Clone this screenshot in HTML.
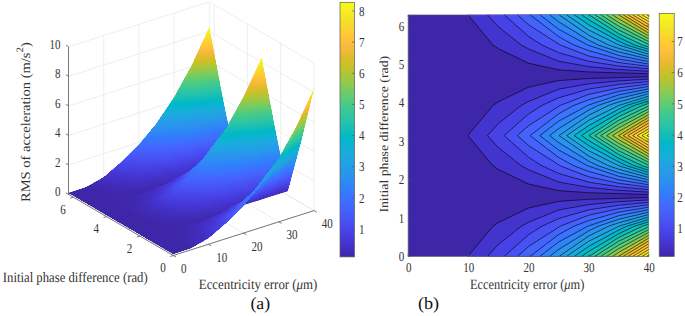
<!DOCTYPE html><html><head><meta charset="utf-8"><style>html,body{margin:0;padding:0;background:#fff;}body{width:685px;height:316px;overflow:hidden;font-family:"Liberation Serif",serif;}svg{display:block;}</style></head><body><svg width="685" height="316" viewBox="0 0 685 316" font-family="Liberation Serif, serif" text-rendering="geometricPrecision"><defs><linearGradient id="p" gradientUnits="userSpaceOnUse" x1="0" y1="0" x2="1" y2="0"><stop offset="0.000" stop-color="#3e26a8"/><stop offset="0.031" stop-color="#422ebf"/><stop offset="0.062" stop-color="#4536d5"/><stop offset="0.094" stop-color="#4741e5"/><stop offset="0.125" stop-color="#484cef"/><stop offset="0.156" stop-color="#4757f7"/><stop offset="0.188" stop-color="#4562fc"/><stop offset="0.219" stop-color="#3f6eff"/><stop offset="0.250" stop-color="#347afd"/><stop offset="0.281" stop-color="#2e85f8"/><stop offset="0.312" stop-color="#2c90f0"/><stop offset="0.344" stop-color="#269ae9"/><stop offset="0.375" stop-color="#21a3e3"/><stop offset="0.406" stop-color="#1aacdd"/><stop offset="0.438" stop-color="#0cb3d3"/><stop offset="0.469" stop-color="#00b9c6"/><stop offset="0.500" stop-color="#12beb9"/><stop offset="0.531" stop-color="#28c2ab"/><stop offset="0.562" stop-color="#34c79c"/><stop offset="0.594" stop-color="#43cb8a"/><stop offset="0.625" stop-color="#5ccc76"/><stop offset="0.656" stop-color="#77cc60"/><stop offset="0.688" stop-color="#94ca4a"/><stop offset="0.719" stop-color="#afc636"/><stop offset="0.750" stop-color="#c8c129"/><stop offset="0.781" stop-color="#debc29"/><stop offset="0.812" stop-color="#f1ba37"/><stop offset="0.844" stop-color="#febe3c"/><stop offset="0.875" stop-color="#feca33"/><stop offset="0.906" stop-color="#f9d62d"/><stop offset="0.938" stop-color="#f5e327"/><stop offset="0.969" stop-color="#f6ef20"/><stop offset="1.000" stop-color="#f9fb15"/></linearGradient><linearGradient id="cb" x1="0" y1="1" x2="0" y2="0"><stop offset="0.000" stop-color="#3e26a8"/><stop offset="0.031" stop-color="#422ebf"/><stop offset="0.062" stop-color="#4536d5"/><stop offset="0.094" stop-color="#4741e5"/><stop offset="0.125" stop-color="#484cef"/><stop offset="0.156" stop-color="#4757f7"/><stop offset="0.188" stop-color="#4562fc"/><stop offset="0.219" stop-color="#3f6eff"/><stop offset="0.250" stop-color="#347afd"/><stop offset="0.281" stop-color="#2e85f8"/><stop offset="0.312" stop-color="#2c90f0"/><stop offset="0.344" stop-color="#269ae9"/><stop offset="0.375" stop-color="#21a3e3"/><stop offset="0.406" stop-color="#1aacdd"/><stop offset="0.438" stop-color="#0cb3d3"/><stop offset="0.469" stop-color="#00b9c6"/><stop offset="0.500" stop-color="#12beb9"/><stop offset="0.531" stop-color="#28c2ab"/><stop offset="0.562" stop-color="#34c79c"/><stop offset="0.594" stop-color="#43cb8a"/><stop offset="0.625" stop-color="#5ccc76"/><stop offset="0.656" stop-color="#77cc60"/><stop offset="0.688" stop-color="#94ca4a"/><stop offset="0.719" stop-color="#afc636"/><stop offset="0.750" stop-color="#c8c129"/><stop offset="0.781" stop-color="#debc29"/><stop offset="0.812" stop-color="#f1ba37"/><stop offset="0.844" stop-color="#febe3c"/><stop offset="0.875" stop-color="#feca33"/><stop offset="0.906" stop-color="#f9d62d"/><stop offset="0.938" stop-color="#f5e327"/><stop offset="0.969" stop-color="#f6ef20"/><stop offset="1.000" stop-color="#f9fb15"/></linearGradient><linearGradient id="g1" href="#p" xlink:href="#p" x1="11.36" y1="177.35" x2="2.60" y2="40.56"/><linearGradient id="g2" href="#p" xlink:href="#p" x1="25.24" y1="193.68" x2="6.55" y2="50.29"/><linearGradient id="g3" href="#p" xlink:href="#p" x1="31.78" y1="196.74" x2="9.48" y2="58.66"/><linearGradient id="g4" href="#p" xlink:href="#p" x1="69.26" y1="217.20" x2="24.06" y2="75.45"/><linearGradient id="g5" href="#p" xlink:href="#p" x1="68.83" y1="215.85" x2="41.22" y2="129.27"/><linearGradient id="g6" href="#p" xlink:href="#p" x1="149.85" y1="215.10" x2="116.80" y2="167.65"/><linearGradient id="g7" href="#p" xlink:href="#p" x1="120.46" y1="225.38" x2="82.19" y2="153.77"/><linearGradient id="g8" href="#p" xlink:href="#p" x1="223.31" y1="162.49" x2="198.60" y2="144.51"/><linearGradient id="g9" href="#p" xlink:href="#p" x1="13.52" y1="211.10" x2="4.76" y2="74.31"/><linearGradient id="g10" href="#p" xlink:href="#p" x1="30.03" y1="230.41" x2="11.34" y2="87.02"/><linearGradient id="g11" href="#p" xlink:href="#p" x1="37.91" y1="234.73" x2="15.61" y2="96.66"/><linearGradient id="g12" href="#p" xlink:href="#p" x1="82.93" y1="260.06" x2="37.73" y2="118.31"/><linearGradient id="g13" href="#p" xlink:href="#p" x1="82.50" y1="258.71" x2="54.89" y2="172.14"/><linearGradient id="g14" href="#p" xlink:href="#p" x1="181.28" y1="260.21" x2="148.22" y2="212.76"/><linearGradient id="g15" href="#p" xlink:href="#p" x1="144.78" y1="270.89" x2="106.51" y2="199.28"/><linearGradient id="g16" href="#p" xlink:href="#p" x1="272.06" y1="197.96" x2="247.35" y2="179.98"/><linearGradient id="g17" href="#p" xlink:href="#p" x1="8.33" y1="178.39" x2="1.67" y2="35.82"/><linearGradient id="g18" href="#p" xlink:href="#p" x1="21.37" y1="193.91" x2="4.45" y2="40.39"/><linearGradient id="g19" href="#p" xlink:href="#p" x1="28.87" y1="197.29" x2="7.47" y2="51.03"/><linearGradient id="g20" href="#p" xlink:href="#p" x1="69.38" y1="217.56" x2="19.39" y2="60.81"/><linearGradient id="g21" href="#p" xlink:href="#p" x1="68.76" y1="215.62" x2="44.07" y2="138.19"/><linearGradient id="g22" href="#p" xlink:href="#p" x1="162.07" y1="203.10" x2="141.99" y2="177.93"/><linearGradient id="g23" href="#p" xlink:href="#p" x1="124.54" y1="221.91" x2="90.18" y2="160.68"/><linearGradient id="g24" href="#p" xlink:href="#p" x1="226.78" y1="129.29" x2="225.06" y2="128.31"/><linearGradient id="g25" href="#p" xlink:href="#p" x1="9.86" y1="211.30" x2="3.21" y2="68.73"/><linearGradient id="g26" href="#p" xlink:href="#p" x1="25.32" y1="229.78" x2="8.40" y2="76.26"/><linearGradient id="g27" href="#p" xlink:href="#p" x1="34.34" y1="234.68" x2="12.94" y2="88.43"/><linearGradient id="g28" href="#p" xlink:href="#p" x1="83.05" y1="260.43" x2="33.06" y2="103.68"/><linearGradient id="g29" href="#p" xlink:href="#p" x1="82.43" y1="258.49" x2="57.74" y2="181.06"/><linearGradient id="g30" href="#p" xlink:href="#p" x1="197.32" y1="247.27" x2="177.24" y2="222.10"/><linearGradient id="g31" href="#p" xlink:href="#p" x1="150.10" y1="267.47" x2="115.74" y2="206.24"/><linearGradient id="g32" href="#p" xlink:href="#p" x1="279.41" y1="159.30" x2="277.70" y2="158.32"/><linearGradient id="g33" href="#p" xlink:href="#p" x1="4.46" y1="179.11" x2="0.70" y2="28.08"/><linearGradient id="g34" href="#p" xlink:href="#p" x1="16.05" y1="193.63" x2="2.01" y2="24.27"/><linearGradient id="g35" href="#p" xlink:href="#p" x1="24.77" y1="197.55" x2="4.83" y2="38.50"/><linearGradient id="g36" href="#p" xlink:href="#p" x1="69.14" y1="218.11" x2="10.83" y2="34.17"/><linearGradient id="g37" href="#p" xlink:href="#p" x1="68.93" y1="215.32" x2="48.98" y2="153.00"/><linearGradient id="g38" href="#p" xlink:href="#p" x1="179.68" y1="179.71" x2="191.13" y2="191.17"/><linearGradient id="g39" href="#p" xlink:href="#p" x1="130.07" y1="217.20" x2="102.88" y2="171.80"/><linearGradient id="g40" href="#p" xlink:href="#p" x1="219.94" y1="82.31" x2="260.15" y2="97.36"/><linearGradient id="g41" href="#p" xlink:href="#p" x1="5.26" y1="210.93" x2="1.49" y2="59.91"/><linearGradient id="g42" href="#p" xlink:href="#p" x1="18.92" y1="228.26" x2="4.88" y2="58.91"/><linearGradient id="g43" href="#p" xlink:href="#p" x1="29.36" y1="234.08" x2="9.41" y2="75.03"/><linearGradient id="g44" href="#p" xlink:href="#p" x1="82.71" y1="260.94" x2="24.41" y2="77.00"/><linearGradient id="g45" href="#p" xlink:href="#p" x1="82.66" y1="258.22" x2="62.71" y2="195.89"/><linearGradient id="g46" href="#p" xlink:href="#p" x1="221.12" y1="221.15" x2="232.57" y2="232.61"/><linearGradient id="g47" href="#p" xlink:href="#p" x1="157.34" y1="262.75" x2="130.15" y2="217.34"/><linearGradient id="g48" href="#p" xlink:href="#p" x1="275.87" y1="103.24" x2="316.08" y2="118.29"/><linearGradient id="g49" href="#p" xlink:href="#p" x1="-0.53" y1="179.32" x2="-0.04" y2="15.22"/><linearGradient id="g50" href="#p" xlink:href="#p" x1="8.44" y1="192.32" x2="-0.16" y2="-3.67"/><linearGradient id="g51" href="#p" xlink:href="#p" x1="18.75" y1="197.22" x2="1.57" y2="16.56"/><linearGradient id="g52" href="#p" xlink:href="#p" x1="55.02" y1="215.68" x2="-3.30" y2="-12.94"/><linearGradient id="g53" href="#p" xlink:href="#p" x1="78.51" y1="215.96" x2="67.32" y2="185.20"/><linearGradient id="g54" href="#p" xlink:href="#p" x1="193.29" y1="143.61" x2="270.71" y2="201.13"/><linearGradient id="g55" href="#p" xlink:href="#p" x1="137.79" y1="210.22" x2="124.87" y2="190.51"/><linearGradient id="g56" href="#p" xlink:href="#p" x1="186.00" y1="23.31" x2="298.48" y2="37.40"/><linearGradient id="g57" href="#p" xlink:href="#p" x1="-0.62" y1="209.70" x2="-0.13" y2="45.60"/><linearGradient id="g58" href="#p" xlink:href="#p" x1="9.88" y1="225.09" x2="1.28" y2="29.10"/><linearGradient id="g59" href="#p" xlink:href="#p" x1="22.10" y1="232.42" x2="4.92" y2="51.76"/><linearGradient id="g60" href="#p" xlink:href="#p" x1="65.54" y1="256.89" x2="7.21" y2="28.26"/><linearGradient id="g61" href="#p" xlink:href="#p" x1="94.42" y1="259.74" x2="83.24" y2="228.98"/><linearGradient id="g62" href="#p" xlink:href="#p" x1="241.63" y1="179.53" x2="319.05" y2="237.05"/><linearGradient id="g63" href="#p" xlink:href="#p" x1="167.52" y1="255.58" x2="154.60" y2="235.87"/><linearGradient id="g64" href="#p" xlink:href="#p" x1="241.30" y1="30.23" x2="353.78" y2="44.33"/><linearGradient id="g65" href="#p" xlink:href="#p" x1="-7.05" y1="178.70" x2="0.29" y2="-7.33"/><linearGradient id="g66" href="#p" xlink:href="#p" x1="-2.93" y1="188.76" x2="0.88" y2="-56.83"/><linearGradient id="g67" href="#p" xlink:href="#p" x1="12.78" y1="197.06" x2="-1.15" y2="-17.68"/><linearGradient id="g68" href="#p" xlink:href="#p" x1="50.80" y1="215.92" x2="-24.86" y2="-105.68"/><linearGradient id="g69" href="#p" xlink:href="#p" x1="80.18" y1="215.31" x2="86.46" y2="232.17"/><linearGradient id="g70" href="#p" xlink:href="#p" x1="190.38" y1="73.73" x2="434.44" y2="168.25"/><linearGradient id="g71" href="#p" xlink:href="#p" x1="148.78" y1="198.67" x2="167.92" y2="224.23"/><linearGradient id="g72" href="#p" xlink:href="#p" x1="105.98" y1="-20.95" x2="316.21" y2="-62.50"/><linearGradient id="g73" href="#p" xlink:href="#p" x1="-8.17" y1="207.13" x2="-0.83" y2="21.10"/><linearGradient id="g74" href="#p" xlink:href="#p" x1="-3.39" y1="218.48" x2="0.42" y2="-27.12"/><linearGradient id="g75" href="#p" xlink:href="#p" x1="14.97" y1="230.85" x2="1.04" y2="16.10"/><linearGradient id="g76" href="#p" xlink:href="#p" x1="60.35" y1="256.52" x2="-15.31" y2="-65.07"/><linearGradient id="g77" href="#p" xlink:href="#p" x1="96.54" y1="259.24" x2="102.82" y2="276.10"/><linearGradient id="g78" href="#p" xlink:href="#p" x1="246.18" y1="95.34" x2="490.24" y2="189.86"/><linearGradient id="g79" href="#p" xlink:href="#p" x1="182.24" y1="243.34" x2="201.38" y2="268.90"/><linearGradient id="g80" href="#p" xlink:href="#p" x1="150.54" y1="-29.76" x2="360.77" y2="-71.31"/><linearGradient id="g81" href="#p" xlink:href="#p" x1="-21.79" y1="169.37" x2="6.15" y2="-47.80"/><linearGradient id="g82" href="#p" xlink:href="#p" x1="-35.33" y1="160.42" x2="41.68" y2="-189.25"/><linearGradient id="g83" href="#p" xlink:href="#p" x1="-2.73" y1="190.47" x2="1.18" y2="-82.20"/><linearGradient id="g84" href="#p" xlink:href="#p" x1="28.46" y1="212.16" x2="-65.17" y2="-485.90"/><linearGradient id="g85" href="#p" xlink:href="#p" x1="85.86" y1="213.97" x2="135.02" y2="336.49"/><linearGradient id="g86" href="#p" xlink:href="#p" x1="9.77" y1="-5.72" x2="465.50" y2="-272.54"/><linearGradient id="g87" href="#p" xlink:href="#p" x1="179.66" y1="154.98" x2="309.53" y2="267.00"/><linearGradient id="g88" href="#p" xlink:href="#p" x1="-31.60" y1="30.74" x2="179.21" y2="-174.31"/><linearGradient id="g89" href="#p" xlink:href="#p" x1="-24.80" y1="192.78" x2="3.14" y2="-24.38"/><linearGradient id="g90" href="#p" xlink:href="#p" x1="-39.32" y1="178.55" x2="37.68" y2="-171.12"/><linearGradient id="g91" href="#p" xlink:href="#p" x1="-3.16" y1="220.25" x2="0.75" y2="-52.42"/><linearGradient id="g92" href="#p" xlink:href="#p" x1="33.41" y1="249.06" x2="-60.23" y2="-449.01"/><linearGradient id="g93" href="#p" xlink:href="#p" x1="103.67" y1="258.36" x2="152.83" y2="380.88"/><linearGradient id="g94" href="#p" xlink:href="#p" x1="35.43" y1="-20.75" x2="491.16" y2="-287.57"/><linearGradient id="g95" href="#p" xlink:href="#p" x1="224.78" y1="193.89" x2="354.64" y2="305.91"/><linearGradient id="g96" href="#p" xlink:href="#p" x1="-19.97" y1="19.42" x2="190.84" y2="-185.62"/><linearGradient id="g97" href="#p" xlink:href="#p" x1="-33.99" y1="162.53" x2="40.98" y2="-195.93"/><linearGradient id="g98" href="#p" xlink:href="#p" x1="-59.39" y1="109.33" x2="345.39" y2="-635.84"/><linearGradient id="g99" href="#p" xlink:href="#p" x1="-17.13" y1="184.41" x2="31.12" y2="-335.12"/><linearGradient id="g100" href="#p" xlink:href="#p" x1="93.21" y1="210.97" x2="360.15" y2="815.12"/><linearGradient id="g101" href="#p" xlink:href="#p" x1="-59.60" y1="96.20" x2="405.89" y2="-655.20"/><linearGradient id="g102" href="#p" xlink:href="#p" x1="181.57" y1="77.62" x2="853.08" y2="364.70"/><linearGradient id="g103" href="#p" xlink:href="#p" x1="-59.64" y1="98.65" x2="190.01" y2="-314.31"/><linearGradient id="g104" href="#p" xlink:href="#p" x1="-37.92" y1="181.30" x2="37.05" y2="-177.16"/><linearGradient id="g105" href="#p" xlink:href="#p" x1="-60.27" y1="110.96" x2="344.51" y2="-634.22"/><linearGradient id="g106" href="#p" xlink:href="#p" x1="-19.49" y1="209.87" x2="28.76" y2="-309.66"/><linearGradient id="g107" href="#p" xlink:href="#p" x1="113.05" y1="255.86" x2="379.99" y2="860.02"/><linearGradient id="g108" href="#p" xlink:href="#p" x1="-58.75" y1="94.84" x2="406.74" y2="-656.56"/><linearGradient id="g109" href="#p" xlink:href="#p" x1="236.85" y1="101.26" x2="908.36" y2="388.34"/><linearGradient id="g110" href="#p" xlink:href="#p" x1="-59.15" y1="97.84" x2="190.50" y2="-315.12"/></defs><path d="M68.5 194.4V46.8M103.7 183.2V35.6M138.9 172V24.4M174.1 160.8V13.2M209.3 149.5V1.9M68.5 194.4L209.3 149.5M68.5 164.9L209.3 120M68.5 135.4L209.3 90.5M68.5 105.9L209.3 61M68.5 76.3L209.3 31.4M68.5 46.8L209.3 1.9M314 210.6V63M280.7 191.2V43.6M247.4 171.7V24.1M214 152.3V4.7M314 210.6L209.3 149.5M314 181.1L209.3 120M314 151.6L209.3 90.5M314 122L209.3 61M314 92.5L209.3 31.4M314 63L209.3 1.9M173.2 255.5L68.5 194.4M208.4 244.3L103.7 183.2M243.6 233.1L138.9 172M278.8 221.8L174.1 160.8M314 210.6L209.3 149.5M173.2 255.5L314 210.6M139.9 236.1L280.7 191.2M106.6 216.6L247.4 171.7M73.2 197.2L214 152.3" stroke="#e3e3e3" stroke-width="0.6" fill="none"/><g id="S"><path d="M209.3,27.3L222.4,96.5L191.7,65.5Z" fill="url(#g1) #c1c32c"/><path d="M222.4,96.5L204.8,118.1L191.7,65.5Z" fill="url(#g2) #25c2ae"/><path d="M222.4,96.5L235.5,160.4L204.8,118.1Z" fill="url(#g3) #2d89f6"/><path d="M235.5,160.4L217.9,166L204.8,118.1Z" fill="url(#g4) #4850f2"/><path d="M235.5,160.4L248.6,111.8L217.9,166Z" fill="url(#g5) #465ffb"/><path d="M248.6,111.8L231,133.4L217.9,166Z" fill="url(#g6) #2d89f6"/><path d="M248.6,111.8L261.7,57.9L231,133.4Z" fill="url(#g7) #54cc7c"/><path d="M261.7,57.9L244.1,96.1L231,133.4Z" fill="url(#g8) #9bc944"/><path d="M261.7,57.9L274.7,127.1L244.1,96.1Z" fill="url(#g9) #c1c32c"/><path d="M274.7,127.1L257.1,148.6L244.1,96.1Z" fill="url(#g10) #25c2ae"/><path d="M274.7,127.1L287.8,190.9L257.1,148.6Z" fill="url(#g11) #2d89f6"/><path d="M287.8,190.9L270.2,196.5L257.1,148.6Z" fill="url(#g12) #4850f2"/><path d="M287.8,190.9L300.9,142.3L270.2,196.5Z" fill="url(#g13) #465ffb"/><path d="M300.9,142.3L283.3,163.9L270.2,196.5Z" fill="url(#g14) #2d89f6"/><path d="M300.9,142.3L314,88.4L283.3,163.9Z" fill="url(#g15) #54cc7c"/><path d="M314,88.4L296.4,126.6L283.3,163.9Z" fill="url(#g16) #9bc944"/><path d="M191.7,65.5L204.8,118.1L174.1,97.3Z" fill="url(#g17) #29c3aa"/><path d="M204.8,118.1L187.2,136.5L174.1,97.3Z" fill="url(#g18) #21a3e4"/><path d="M204.8,118.1L217.9,166L187.2,136.5Z" fill="url(#g19) #416bfe"/><path d="M217.9,166L200.3,171.6L187.2,136.5Z" fill="url(#g20) #4743e7"/><path d="M217.9,166L231,133.4L200.3,171.6Z" fill="url(#g21) #4850f2"/><path d="M231,133.4L213.4,151.8L200.3,171.6Z" fill="url(#g22) #416bfe"/><path d="M231,133.4L244.1,96.1L213.4,151.8Z" fill="url(#g23) #06b5cf"/><path d="M244.1,96.1L226.5,127.8L213.4,151.8Z" fill="url(#g24) #11beba"/><path d="M244.1,96.1L257.1,148.6L226.5,127.8Z" fill="url(#g25) #29c3aa"/><path d="M257.1,148.6L239.5,167.1L226.5,127.8Z" fill="url(#g26) #21a3e4"/><path d="M257.1,148.6L270.2,196.5L239.5,167.1Z" fill="url(#g27) #416bfe"/><path d="M270.2,196.5L252.6,202.1L239.5,167.1Z" fill="url(#g28) #4743e7"/><path d="M270.2,196.5L283.3,163.9L252.6,202.1Z" fill="url(#g29) #4850f2"/><path d="M283.3,163.9L265.7,182.3L252.6,202.1Z" fill="url(#g30) #416bfe"/><path d="M283.3,163.9L296.4,126.6L265.7,182.3Z" fill="url(#g31) #06b5cf"/><path d="M296.4,126.6L278.8,158.3L265.7,182.3Z" fill="url(#g32) #11beba"/><path d="M174.1,97.3L187.2,136.5L156.5,123.4Z" fill="url(#g33) #22a1e4"/><path d="M187.2,136.5L169.6,152.2L156.5,123.4Z" fill="url(#g34) #327cfc"/><path d="M187.2,136.5L200.3,171.6L169.6,152.2Z" fill="url(#g35) #4854f6"/><path d="M200.3,171.6L182.7,177.3L169.6,152.2Z" fill="url(#g36) #4639da"/><path d="M200.3,171.6L213.4,151.8L182.7,177.3Z" fill="url(#g37) #4743e7"/><path d="M213.4,151.8L195.8,167.5L182.7,177.3Z" fill="url(#g38) #4854f5"/><path d="M213.4,151.8L226.5,127.8L195.8,167.5Z" fill="url(#g39) #2c8ff0"/><path d="M226.5,127.8L208.9,154L195.8,167.5Z" fill="url(#g40) #2699e9"/><path d="M226.5,127.8L239.5,167.1L208.9,154Z" fill="url(#g41) #22a1e4"/><path d="M239.5,167.1L221.9,182.7L208.9,154Z" fill="url(#g42) #327cfc"/><path d="M239.5,167.1L252.6,202.1L221.9,182.7Z" fill="url(#g43) #4854f6"/><path d="M252.6,202.1L235,207.8L221.9,182.7Z" fill="url(#g44) #4639da"/><path d="M252.6,202.1L265.7,182.3L235,207.8Z" fill="url(#g45) #4743e7"/><path d="M265.7,182.3L248.1,198L235,207.8Z" fill="url(#g46) #4854f5"/><path d="M265.7,182.3L278.8,158.3L248.1,198Z" fill="url(#g47) #2c8ff0"/><path d="M278.8,158.3L261.2,184.5L248.1,198Z" fill="url(#g48) #2699e9"/><path d="M156.5,123.4L169.6,152.2L138.9,144.8Z" fill="url(#g49) #3777fe"/><path d="M169.6,152.2L152,165.5L138.9,144.8Z" fill="url(#g50) #4759f8"/><path d="M169.6,152.2L182.7,177.3L152,165.5Z" fill="url(#g51) #4743e7"/><path d="M182.7,177.3L165.1,184L152,165.5Z" fill="url(#g52) #4432cb"/><path d="M182.7,177.3L195.8,167.5L165.1,184Z" fill="url(#g53) #4538d9"/><path d="M195.8,167.5L178.2,180.8L165.1,184Z" fill="url(#g54) #4741e5"/><path d="M195.8,167.5L208.9,154L178.2,180.8Z" fill="url(#g55) #4369fe"/><path d="M208.9,154L191.3,175.3L178.2,180.8Z" fill="url(#g56) #3f6eff"/><path d="M208.9,154L221.9,182.7L191.3,175.3Z" fill="url(#g57) #3777fe"/><path d="M221.9,182.7L204.3,196.1L191.3,175.3Z" fill="url(#g58) #4759f8"/><path d="M221.9,182.7L235,207.8L204.3,196.1Z" fill="url(#g59) #4743e7"/><path d="M235,207.8L217.4,214.5L204.3,196.1Z" fill="url(#g60) #4432cb"/><path d="M235,207.8L248.1,198L217.4,214.5Z" fill="url(#g61) #4538d9"/><path d="M248.1,198L230.5,211.4L217.4,214.5Z" fill="url(#g62) #4741e5"/><path d="M248.1,198L261.2,184.5L230.5,211.4Z" fill="url(#g63) #4369fe"/><path d="M261.2,184.5L243.6,205.9L230.5,211.4Z" fill="url(#g64) #3f6eff"/><path d="M138.9,144.8L152,165.5L121.3,162Z" fill="url(#g65) #4853f5"/><path d="M152,165.5L134.4,176.8L121.3,162Z" fill="url(#g66) #4740e4"/><path d="M152,165.5L165.1,184L134.4,176.8Z" fill="url(#g67) #4535d2"/><path d="M165.1,184L147.5,190.4L134.4,176.8Z" fill="url(#g68) #412dbc"/><path d="M165.1,184L178.2,180.8L147.5,190.4Z" fill="url(#g69) #4331c7"/><path d="M178.2,180.8L160.6,192.1L147.5,190.4Z" fill="url(#g70) #4435d1"/><path d="M178.2,180.8L191.3,175.3L160.6,192.1Z" fill="url(#g71) #484cef"/><path d="M191.3,175.3L173.7,192.6L160.6,192.1Z" fill="url(#g72) #484df1"/><path d="M191.3,175.3L204.3,196.1L173.7,192.6Z" fill="url(#g73) #4853f5"/><path d="M204.3,196.1L186.7,207.4L173.7,192.6Z" fill="url(#g74) #4740e4"/><path d="M204.3,196.1L217.4,214.5L186.7,207.4Z" fill="url(#g75) #4535d2"/><path d="M217.4,214.5L199.8,220.9L186.7,207.4Z" fill="url(#g76) #412dbc"/><path d="M217.4,214.5L230.5,211.4L199.8,220.9Z" fill="url(#g77) #4331c7"/><path d="M230.5,211.4L212.9,222.7L199.8,220.9Z" fill="url(#g78) #4435d1"/><path d="M230.5,211.4L243.6,205.9L212.9,222.7Z" fill="url(#g79) #484cef"/><path d="M243.6,205.9L226,223.1L212.9,222.7Z" fill="url(#g80) #484df1"/><path d="M121.3,162L134.4,176.8L103.7,177.2Z" fill="url(#g81) #4639d9"/><path d="M134.4,176.8L116.8,187.1L103.7,177.2Z" fill="url(#g82) #4230c4"/><path d="M134.4,176.8L147.5,190.4L116.8,187.1Z" fill="url(#g83) #412dbd"/><path d="M147.5,190.4L129.9,196.7L116.8,187.1Z" fill="url(#g84) #3f28b0"/><path d="M147.5,190.4L160.6,192.1L129.9,196.7Z" fill="url(#g85) #412cb9"/><path d="M160.6,192.1L143,202.4L129.9,196.7Z" fill="url(#g86) #412dbc"/><path d="M160.6,192.1L173.7,192.6L143,202.4Z" fill="url(#g87) #4537d6"/><path d="M173.7,192.6L156.1,207.7L143,202.4Z" fill="url(#g88) #4535d2"/><path d="M173.7,192.6L186.7,207.4L156.1,207.7Z" fill="url(#g89) #4639d9"/><path d="M186.7,207.4L169.1,217.7L156.1,207.7Z" fill="url(#g90) #4230c4"/><path d="M186.7,207.4L199.8,220.9L169.1,217.7Z" fill="url(#g91) #412dbd"/><path d="M199.8,220.9L182.2,227.2L169.1,217.7Z" fill="url(#g92) #3f28b0"/><path d="M199.8,220.9L212.9,222.7L182.2,227.2Z" fill="url(#g93) #412cb9"/><path d="M212.9,222.7L195.3,232.9L182.2,227.2Z" fill="url(#g94) #412dbc"/><path d="M212.9,222.7L226,223.1L195.3,232.9Z" fill="url(#g95) #4537d6"/><path d="M226,223.1L208.4,238.2L195.3,232.9Z" fill="url(#g96) #4535d2"/><path d="M103.7,177.2L116.8,187.1L86.1,187.2Z" fill="url(#g97) #402bb7"/><path d="M116.8,187.1L99.2,194.9L86.1,187.2Z" fill="url(#g98) #3f28ae"/><path d="M116.8,187.1L129.9,196.7L99.2,194.9Z" fill="url(#g99) #3f28ae"/><path d="M129.9,196.7L112.3,202.6L99.2,194.9Z" fill="#3e27a9"/><path d="M129.9,196.7L143,202.4L112.3,202.6Z" fill="url(#g100) #3f28ae"/><path d="M143,202.4L125.4,210.2L112.3,202.6Z" fill="url(#g101) #3f28ad"/><path d="M143,202.4L156.1,207.7L125.4,210.2Z" fill="url(#g102) #402bb7"/><path d="M156.1,207.7L138.5,217.7L125.4,210.2Z" fill="url(#g103) #4029b3"/><path d="M156.1,207.7L169.1,217.7L138.5,217.7Z" fill="url(#g104) #402bb7"/><path d="M169.1,217.7L151.5,225.4L138.5,217.7Z" fill="url(#g105) #3f28ae"/><path d="M169.1,217.7L182.2,227.2L151.5,225.4Z" fill="url(#g106) #3f28ae"/><path d="M182.2,227.2L164.6,233.1L151.5,225.4Z" fill="#3e27a9"/><path d="M182.2,227.2L195.3,232.9L164.6,233.1Z" fill="url(#g107) #3f28ae"/><path d="M195.3,232.9L177.7,240.7L164.6,233.1Z" fill="url(#g108) #3f28ad"/><path d="M195.3,232.9L208.4,238.2L177.7,240.7Z" fill="url(#g109) #402bb7"/><path d="M208.4,238.2L190.8,248.3L177.7,240.7Z" fill="url(#g110) #4029b3"/><path d="M86.1,187.2L99.2,194.9L68.5,193Z" fill="#3e26a9"/><path d="M99.2,194.9L81.6,200.6L68.5,193Z" fill="#3e26a9"/><path d="M99.2,194.9L112.3,202.6L81.6,200.6Z" fill="#3e26a9"/><path d="M112.3,202.6L94.7,208.2L81.6,200.6Z" fill="#3e26a8"/><path d="M112.3,202.6L125.4,210.2L94.7,208.2Z" fill="#3e26a9"/><path d="M125.4,210.2L107.8,215.9L94.7,208.2Z" fill="#3e26a9"/><path d="M125.4,210.2L138.5,217.7L107.8,215.9Z" fill="#3e26a9"/><path d="M138.5,217.7L120.9,223.5L107.8,215.9Z" fill="#3e26a9"/><path d="M138.5,217.7L151.5,225.4L120.9,223.5Z" fill="#3e26a9"/><path d="M151.5,225.4L133.9,231.1L120.9,223.5Z" fill="#3e26a9"/><path d="M151.5,225.4L164.6,233.1L133.9,231.1Z" fill="#3e26a9"/><path d="M164.6,233.1L147,238.8L133.9,231.1Z" fill="#3e26a8"/><path d="M164.6,233.1L177.7,240.7L147,238.8Z" fill="#3e26a9"/><path d="M177.7,240.7L160.1,246.4L147,238.8Z" fill="#3e26a9"/><path d="M177.7,240.7L190.8,248.3L160.1,246.4Z" fill="#3e26a9"/><path d="M190.8,248.3L173.2,254L160.1,246.4Z" fill="#3e26a9"/></g><use href="#S" xlink:href="#S" shape-rendering="crispEdges"/><path d="M68.5 194.4V46.8M173.2 255.5L68.5 194.4M173.2 255.5L314 210.6M68.5 194.4L65.8 192.8M68.5 164.9L65.8 163.3M68.5 135.4L65.8 133.8M68.5 105.9L65.8 104.3M68.5 76.3L65.8 74.7M68.5 46.8L65.8 45.2M173.2 255.5L170.2 256.5M139.9 236.1L136.8 237M106.6 216.6L103.5 217.6M73.2 197.2L70.2 198.2M173.2 255.5L176 257.1M208.4 244.3L211.2 245.9M243.6 233.1L246.4 234.7M278.8 221.8L281.6 223.4M314 210.6L316.8 212.2" stroke="#5a5a5a" stroke-width="0.8" fill="none"/><g fill="#333333" font-size="12"><text transform="translate(60.5 196.1) scale(0.92 1.14)" text-anchor="end">0</text><text transform="translate(60.5 166.6) scale(0.92 1.14)" text-anchor="end">2</text><text transform="translate(60.5 137.1) scale(0.92 1.14)" text-anchor="end">4</text><text transform="translate(60.5 107.6) scale(0.92 1.14)" text-anchor="end">6</text><text transform="translate(60.5 78.0) scale(0.92 1.14)" text-anchor="end">8</text><text transform="translate(60.5 48.5) scale(0.92 1.14)" text-anchor="end">10</text><text transform="translate(162.9 272.0) scale(0.92 1.14)" text-anchor="middle">0</text><text transform="translate(129.6 252.6) scale(0.92 1.14)" text-anchor="middle">2</text><text transform="translate(96.3 233.1) scale(0.92 1.14)" text-anchor="middle">4</text><text transform="translate(62.9 213.7) scale(0.92 1.14)" text-anchor="middle">6</text><text transform="translate(183.7 273.1) scale(0.92 1.14)" text-anchor="middle">0</text><text transform="translate(221.7 261.9) scale(0.92 1.14)" text-anchor="middle">10</text><text transform="translate(256.9 250.7) scale(0.92 1.14)" text-anchor="middle">20</text><text transform="translate(292.1 239.4) scale(0.92 1.14)" text-anchor="middle">30</text><text transform="translate(327.3 228.2) scale(0.92 1.14)" text-anchor="middle">40</text></g><rect x="340.0" y="2.3" width="14.5" height="254.6" fill="url(#cb)" stroke="#5a5a5a" stroke-width="0.7"/><path d="M354.5 228.9h-2.5M354.5 197.8h-2.5M354.5 166.6h-2.5M354.5 135.5h-2.5M354.5 104.4h-2.5M354.5 73.3h-2.5M354.5 42.1h-2.5M354.5 11h-2.5" stroke="#5a5a5a" stroke-width="0.7"/><g fill="#333333" font-size="12"><text transform="translate(359.0 233.7) scale(0.92 1.14)">1</text><text transform="translate(359.0 202.6) scale(0.92 1.14)">2</text><text transform="translate(359.0 171.4) scale(0.92 1.14)">3</text><text transform="translate(359.0 140.3) scale(0.92 1.14)">4</text><text transform="translate(359.0 109.2) scale(0.92 1.14)">5</text><text transform="translate(359.0 78.1) scale(0.92 1.14)">6</text><text transform="translate(359.0 46.9) scale(0.92 1.14)">7</text><text transform="translate(359.0 15.8) scale(0.92 1.14)">8</text></g><text transform="translate(2.80 281.50) scale(0.9640 1.0800)" font-size="13.20" fill="#333333">Initial phase difference (rad)</text><text transform="translate(198.80 288.80) scale(0.9750 1.0800)" font-size="13.20" fill="#333333">Eccentricity error (<tspan font-style="italic">&#956;</tspan>m)</text><text transform="translate(30.30 202.00) rotate(-90) scale(1.1000 1.0000)" font-size="13.20" fill="#333333">RMS of acceleration (m/s<tspan font-size="75%" dy="-7.2">2</tspan><tspan dy="7.2">)</tspan></text><text transform="translate(250.40 309.00) scale(1.0800 1.0500)" font-size="16.50" fill="#111">(a)</text><g><rect x="408.2" y="14.8" width="240.6" height="241.6" fill="#3e26a8"/><path d="M468.3 256.4L648.8 256.4L648.8 197.5L588.6 199.3L558.6 201.4L528.5 208L498.4 222.6L493 226.2L468.3 255.8L467.9 256.4L468.3 256.4ZM498.4 169.4L528.5 184L558.6 190.6L588.6 192.7L648.8 194.5L648.8 76.7L588.6 78.5L558.6 80.6L528.5 87.2L498.4 101.8L493 105.4L467.9 135.6L493 165.8L498.4 169.4ZM498.4 48.6L528.5 63.2L558.6 69.8L588.6 71.9L648.8 73.7L648.8 14.8L467.9 14.8L493 45L498.4 48.6Z" fill="#4434ce"/><path d="M498.4 256.4L648.8 256.4L648.8 199.9L618.7 201.7L588.6 204.6L558.6 210L528.5 222.3L521.3 226.2L498.4 244.4L487.5 256.4L498.4 256.4ZM528.5 169.7L558.6 182L588.6 187.4L618.7 190.3L648.8 192.1L648.8 79.1L618.7 80.9L588.6 83.8L558.6 89.2L528.5 101.5L521.3 105.4L498.4 123.6L487.5 135.6L498.4 147.6L521.3 165.8L528.5 169.7ZM528.5 48.9L558.6 61.2L588.6 66.6L618.7 69.5L648.8 71.3L648.8 14.8L487.5 14.8L498.4 26.8L521.3 45L528.5 48.9Z" fill="#4742e6"/><path d="M528.5 256.4L648.8 256.4L648.8 202.4L618.7 205.2L588.6 209.9L558.6 218.6L542.1 226.2L528.5 234.8L504.2 256.4L528.5 256.4ZM558.6 173.4L588.6 182.1L618.7 186.8L648.8 189.6L648.8 81.6L618.7 84.4L588.6 89.1L558.6 97.8L542.1 105.4L528.5 114L504.2 135.6L528.5 157.2L542.1 165.8L558.6 173.4ZM558.6 52.6L588.6 61.3L618.7 66L648.8 68.8L648.8 14.8L504.2 14.8L528.5 36.4L542.1 45L558.6 52.6Z" fill="#4852f4"/><path d="M528.5 256.4L648.8 256.4L648.8 204.8L618.7 208.7L588.7 215.2L560.3 226.2L528.5 246.5L517.4 256.4L528.5 256.4ZM588.7 176.8L618.7 183.3L648.8 187.2L648.8 84L618.7 87.9L588.7 94.4L560.3 105.4L528.5 125.7L517.4 135.6L528.5 145.5L558.6 164.9L588.7 176.8ZM588.7 56L618.7 62.5L648.8 66.4L648.8 14.8L517.4 14.8L528.5 24.7L558.6 44.1L588.7 56Z" fill="#4562fc"/><path d="M558.6 256.4L648.8 256.4L648.8 207.2L618.7 212.2L588.6 220.6L574 226.2L558.6 234.6L530.1 256.4L558.6 256.4ZM588.6 171.4L618.7 179.8L648.8 184.8L648.8 86.4L618.7 91.4L588.6 99.8L574 105.4L558.6 113.8L530.1 135.6L558.6 157.4L574 165.8L588.6 171.4ZM588.6 50.6L618.7 59L648.8 64L648.8 14.8L530.1 14.8L558.6 36.6L574 45L588.6 50.6Z" fill="#3b72ff"/><path d="M558.6 256.4L648.8 256.4L648.8 209.6L618.7 215.7L587.8 226.2L558.6 242L539.8 256.4L558.6 256.4ZM588.6 166.1L618.7 176.3L648.8 182.4L648.8 88.8L618.7 94.9L587.8 105.4L558.6 121.2L539.8 135.6L558.6 150L588.6 166.1ZM588.6 45.3L618.7 55.5L648.8 61.6L648.8 14.8L539.8 14.8L558.6 29.2L588.6 45.3Z" fill="#2e83f9"/><path d="M558.6 256.4L648.8 256.4L648.8 212.1L618.7 219.3L598.3 226.2L588.6 231L558.6 249.5L549.6 256.4L558.6 256.4ZM618.7 172.7L648.8 179.9L648.8 91.3L618.7 98.5L598.3 105.4L588.6 110.2L558.6 128.7L549.6 135.6L558.6 142.5L588.6 161L598.3 165.8L618.7 172.7ZM618.7 51.9L648.8 59.1L648.8 14.8L549.6 14.8L558.6 21.7L588.6 40.2L598.3 45L618.7 51.9Z" fill="#2b92ee"/><path d="M588.6 256.4L648.8 256.4L648.8 214.5L618.7 222.8L608.7 226.2L588.6 236.1L559.1 256.4L588.6 256.4ZM618.7 169.2L648.8 177.5L648.8 93.7L618.7 102L608.7 105.4L588.6 115.3L559.1 135.6L588.6 155.9L608.7 165.8L618.7 169.2ZM618.7 48.4L648.8 56.7L648.8 14.8L559.1 14.8L588.6 35.1L608.7 45L618.7 48.4Z" fill="#23a0e5"/><path d="M588.6 256.4L648.8 256.4L648.8 216.9L618.9 226.2L588.6 241.3L566.6 256.4L588.6 256.4ZM648.8 175.1L648.8 96.1L618.7 105.5L588.6 120.5L566.6 135.6L588.6 150.7L618.7 165.7L648.8 175.1ZM648.8 54.3L648.8 14.8L566.6 14.8L588.6 29.9L618.7 44.9L648.8 54.3Z" fill="#1aacdd"/><path d="M588.6 256.4L648.8 256.4L648.8 219.4L626.8 226.2L618.7 230L588.7 246.4L574.1 256.4L588.6 256.4ZM648.8 172.6L648.8 98.6L626.8 105.4L618.7 109.2L588.7 125.6L574.1 135.6L588.7 145.6L618.7 162L626.8 165.8L648.8 172.6ZM648.8 51.8L648.8 14.8L574.1 14.8L588.7 24.8L618.7 41.2L626.8 45L648.8 51.8Z" fill="#03b6cd"/><path d="M588.6 256.4L648.8 256.4L648.8 221.8L634.6 226.2L618.7 233.8L588.6 251.5L581.6 256.4L588.6 256.4ZM648.8 170.2L648.8 101L634.6 105.4L618.7 113L588.6 130.7L581.6 135.6L588.6 140.5L618.7 158.2L634.6 165.8L648.8 170.2ZM648.8 49.4L648.8 14.8L581.6 14.8L588.6 19.7L618.7 37.4L634.6 45L648.8 49.4Z" fill="#0fbebb"/><path d="M618.7 256.4L648.8 256.4L648.8 224.2L642.5 226.2L618.7 237.5L589 256.4L618.7 256.4ZM648.8 167.8L648.8 103.4L642.5 105.4L618.7 116.7L589 135.6L618.7 154.5L642.5 165.8L648.8 167.8ZM648.8 47L648.8 14.8L589 14.8L618.7 33.7L642.5 45L648.8 47Z" fill="#2cc4a7"/><path d="M618.7 256.4L648.8 256.4L648.8 226.7L618.7 241.2L594.8 256.4L618.7 256.4ZM618.7 150.8L648.8 165.3L648.8 105.9L618.7 120.4L594.8 135.6L618.7 150.8ZM618.7 30L648.8 44.5L648.8 14.8L594.8 14.8L618.7 30Z" fill="#3eca8f"/><path d="M618.7 256.4L648.8 256.4L648.8 229.6L618.7 245L600.7 256.4L618.7 256.4ZM618.7 147L648.8 162.4L648.8 108.8L618.7 124.2L600.7 135.6L618.7 147ZM618.7 26.2L648.8 41.6L648.8 14.8L600.7 14.8L618.7 26.2Z" fill="#5fcd73"/><path d="M618.7 256.4L648.8 256.4L648.8 232.4L618.7 248.7L606.6 256.4L618.7 256.4ZM618.7 143.3L648.8 159.6L648.8 111.6L618.7 127.9L606.6 135.6L618.7 143.3ZM618.7 22.5L648.8 38.8L648.8 14.8L606.6 14.8L618.7 22.5Z" fill="#88cb54"/><path d="M618.7 256.4L648.8 256.4L648.8 235.3L618.7 252.4L612.5 256.4L618.7 256.4ZM618.7 139.6L648.8 156.7L648.8 114.5L618.7 131.6L612.5 135.6L618.7 139.6ZM618.7 18.8L648.8 35.9L648.8 14.8L612.5 14.8L618.7 18.8Z" fill="#afc636"/><path d="M618.7 256.4L648.8 256.4L648.8 238.1L618.7 256.4ZM618.7 135.8L648.8 153.9L648.8 117.3L618.7 135.4L618.4 135.6L618.7 135.8ZM618.7 15L648.8 33.1L648.8 14.8L618.7 15Z" fill="#d2bf27"/><path d="M648.8 256.4L648.8 240.9L623.2 256.4L648.8 256.4ZM648.8 151.1L648.8 120.1L623.2 135.6L648.8 151.1ZM648.8 30.3L648.8 14.8L623.2 14.8L648.8 30.3Z" fill="#eeba34"/><path d="M648.8 256.4L648.8 243.8L627.9 256.4L648.8 256.4ZM648.8 148.2L648.8 123L627.9 135.6L648.8 148.2ZM648.8 27.4L648.8 14.8L627.9 14.8L648.8 27.4Z" fill="#fec13a"/><path d="M648.8 256.4L648.8 246.6L632.6 256.4L648.8 256.4ZM648.8 145.4L648.8 125.8L632.6 135.6L648.8 145.4ZM648.8 24.6L648.8 14.8L632.6 14.8L648.8 24.6Z" fill="#fbd22f"/><path d="M648.8 256.4L648.8 249.5L637.3 256.4L648.8 256.4ZM648.8 142.5L648.8 128.7L637.3 135.6L648.8 142.5ZM648.8 21.7L648.8 14.8L637.3 14.8L648.8 21.7Z" fill="#f5e427"/><path d="M648.8 256.4L648.8 252.3L642 256.4L648.8 256.4ZM648.8 139.7L648.8 131.5L642 135.6L648.8 139.7ZM648.8 18.9L648.8 14.8L642 14.8L648.8 18.9Z" fill="#f7f51b"/><path d="M648.8 256.4L648.8 255.2L646.7 256.4L648.8 256.4ZM648.8 136.8L648.8 134.4L646.7 135.6L648.8 136.8ZM648.8 16L648.8 14.8L646.7 14.8L648.8 16Z" fill="#f9fb15"/><path d="M648.8 197.5L588.6 199.3L558.6 201.4L528.5 208L498.4 222.6L493 226.2L467.9 256.4M648.8 76.7L588.6 78.5L558.6 80.6L528.5 87.2L498.4 101.8L493 105.4L467.9 135.6L493 165.8L498.4 169.4L528.5 184L558.6 190.6L588.6 192.7L648.8 194.5M467.9 14.8L493 45L498.4 48.6L528.5 63.2L558.6 69.8L588.6 71.9L648.8 73.7M648.8 199.9L618.7 201.7L588.6 204.6L558.6 210L528.5 222.3L521.3 226.2L498.4 244.4L487.5 256.4M648.8 79.1L618.7 80.9L588.6 83.8L558.6 89.2L528.5 101.5L521.3 105.4L498.4 123.6L487.5 135.6L498.4 147.6L521.3 165.8L528.5 169.7L558.6 182L588.6 187.4L618.7 190.3L648.8 192.1M487.5 14.8L498.4 26.8L521.3 45L528.5 48.9L558.6 61.2L588.6 66.6L618.7 69.5L648.8 71.3M648.8 202.4L618.7 205.2L588.6 209.9L558.6 218.6L542.1 226.2L528.5 234.8L504.2 256.4M648.8 81.6L618.7 84.4L588.6 89.1L558.6 97.8L542.1 105.4L528.5 114L504.2 135.6L528.5 157.2L542.1 165.8L558.6 173.4L588.6 182.1L618.7 186.8L648.8 189.6M504.2 14.8L528.5 36.4L542.1 45L558.6 52.6L588.6 61.3L618.7 66L648.8 68.8M648.8 204.8L618.7 208.7L588.7 215.2L560.3 226.2L528.5 246.5L517.4 256.4M648.8 84L618.7 87.9L588.7 94.4L560.3 105.4L528.5 125.7L517.4 135.6L528.5 145.5L560.3 165.8L588.7 176.8L618.7 183.3L648.8 187.2M517.4 14.8L528.5 24.7L560.3 45L588.7 56L618.7 62.5L648.8 66.4M648.8 207.2L618.7 212.2L588.6 220.6L574 226.2L558.6 234.6L530.1 256.4M648.8 86.4L618.7 91.4L588.6 99.8L574 105.4L558.6 113.8L530.1 135.6L558.6 157.4L574 165.8L588.6 171.4L618.7 179.8L648.8 184.8M530.1 14.8L558.6 36.6L574 45L588.6 50.6L618.7 59L648.8 64M648.8 209.6L618.7 215.7L587.8 226.2L558.6 242L539.8 256.4M648.8 88.8L618.7 94.9L587.8 105.4L558.6 121.2L539.8 135.6L558.6 150L587.8 165.8L618.7 176.3L648.8 182.4M539.8 14.8L558.6 29.2L587.8 45L618.7 55.5L648.8 61.6M648.8 212.1L618.7 219.3L598.3 226.2L588.6 231L558.6 249.5L549.6 256.4M648.8 91.3L618.7 98.5L598.3 105.4L588.6 110.2L558.6 128.7L549.6 135.6L558.6 142.5L588.6 161L598.3 165.8L618.7 172.7L648.8 179.9M549.6 14.8L558.6 21.7L588.6 40.2L598.3 45L618.7 51.9L648.8 59.1M648.8 214.5L618.7 222.8L608.7 226.2L588.6 236.1L559.1 256.4M648.8 93.7L618.7 102L608.7 105.4L588.6 115.3L559.1 135.6L588.6 155.9L608.7 165.8L618.7 169.2L648.8 177.5M559.1 14.8L588.6 35.1L608.7 45L618.7 48.4L648.8 56.7M648.8 216.9L618.7 226.3L588.6 241.3L566.6 256.4M648.8 96.1L618.7 105.5L588.6 120.5L566.6 135.6L588.6 150.7L618.7 165.7L648.8 175.1M566.6 14.8L588.6 29.9L618.7 44.9L648.8 54.3M648.8 219.4L626.8 226.2L618.7 230L588.7 246.4L574.1 256.4M648.8 98.6L626.8 105.4L618.7 109.2L588.7 125.6L574.1 135.6L588.7 145.6L618.7 162L626.8 165.8L648.8 172.6M574.1 14.8L588.7 24.8L618.7 41.2L626.8 45L648.8 51.8M648.8 221.8L634.6 226.2L618.7 233.8L588.6 251.5L581.6 256.4M648.8 101L634.6 105.4L618.7 113L588.6 130.7L581.6 135.6L588.6 140.5L618.7 158.2L634.6 165.8L648.8 170.2M581.6 14.8L588.6 19.7L618.7 37.4L634.6 45L648.8 49.4M648.8 224.2L642.5 226.2L618.7 237.5L589 256.4M648.8 103.4L642.5 105.4L618.7 116.7L589 135.6L618.7 154.5L642.5 165.8L648.8 167.8M589 14.8L618.7 33.7L642.5 45L648.8 47M648.8 226.7L618.7 241.2L594.8 256.4M648.8 105.9L618.7 120.4L594.8 135.6L618.7 150.8L648.8 165.3M594.8 14.8L618.7 30L648.8 44.5M648.8 229.6L618.7 245L600.7 256.4M648.8 108.8L618.7 124.2L600.7 135.6L618.7 147L648.8 162.4M600.7 14.8L618.7 26.2L648.8 41.6M648.8 232.4L618.7 248.7L606.6 256.4M648.8 111.6L618.7 127.9L606.6 135.6L618.7 143.3L648.8 159.6M606.6 14.8L618.7 22.5L648.8 38.8M648.8 235.3L618.7 252.4L612.5 256.4M648.8 114.5L618.7 131.6L612.5 135.6L618.7 139.6L648.8 156.7M612.5 14.8L618.7 18.8L648.8 35.9M648.8 238.1L618.4 256.4M648.8 117.3L618.4 135.6L648.8 153.9M618.4 14.8L648.8 33.1M648.8 240.9L623.2 256.4M648.8 120.1L623.2 135.6L648.8 151.1M623.2 14.8L648.8 30.3M648.8 243.8L627.9 256.4M648.8 123L627.9 135.6L648.8 148.2M627.9 14.8L648.8 27.4M648.8 246.6L632.6 256.4M648.8 125.8L632.6 135.6L648.8 145.4M632.6 14.8L648.8 24.6M648.8 249.5L637.3 256.4M648.8 128.7L637.3 135.6L648.8 142.5M637.3 14.8L648.8 21.7M648.8 252.3L642 256.4M648.8 131.5L642 135.6L648.8 139.7M642 14.8L648.8 18.9M648.8 255.2L646.7 256.4M648.8 134.4L646.7 135.6L648.8 136.8M646.7 14.8L648.8 16" fill="none" stroke="#000" stroke-width="0.6"/></g><path d="M408.2 14.8V256.4H648.8" fill="none" stroke="#5a5a5a" stroke-width="0.7"/><path d="M408.2 14.8H648.8V256.4" fill="none" stroke="#8a8a8a" stroke-width="0.4"/><path d="M408.2 256.4v-2.4M408.2 14.8v2.4M468.3 256.4v-2.4M468.3 14.8v2.4M528.5 256.4v-2.4M528.5 14.8v2.4M588.6 256.4v-2.4M588.6 14.8v2.4M648.8 256.4v-2.4M648.8 14.8v2.4M408.2 256.4h2.4M648.8 256.4h-2.4M408.2 217.9h2.4M648.8 217.9h-2.4M408.2 179.5h2.4M648.8 179.5h-2.4M408.2 141h2.4M648.8 141h-2.4M408.2 102.6h2.4M648.8 102.6h-2.4M408.2 64.1h2.4M648.8 64.1h-2.4M408.2 25.7h2.4M648.8 25.7h-2.4" stroke="#5a5a5a" stroke-width="0.7"/><g fill="#333333" font-size="12"><text transform="translate(408.7 271.8) scale(0.92 1.14)" text-anchor="middle">0</text><text transform="translate(468.8 271.8) scale(0.92 1.14)" text-anchor="middle">10</text><text transform="translate(529.0 271.8) scale(0.92 1.14)" text-anchor="middle">20</text><text transform="translate(589.1 271.8) scale(0.92 1.14)" text-anchor="middle">30</text><text transform="translate(649.3 271.8) scale(0.92 1.14)" text-anchor="middle">40</text><text transform="translate(404.2 261.2) scale(0.92 1.14)" text-anchor="end">0</text><text transform="translate(404.2 222.7) scale(0.92 1.14)" text-anchor="end">1</text><text transform="translate(404.2 184.3) scale(0.92 1.14)" text-anchor="end">2</text><text transform="translate(404.2 145.8) scale(0.92 1.14)" text-anchor="end">3</text><text transform="translate(404.2 107.4) scale(0.92 1.14)" text-anchor="end">4</text><text transform="translate(404.2 68.9) scale(0.92 1.14)" text-anchor="end">5</text><text transform="translate(404.2 30.5) scale(0.92 1.14)" text-anchor="end">6</text></g><rect x="659.2" y="13.4" width="15.0" height="243.1" fill="url(#cb)" stroke="#5a5a5a" stroke-width="0.7"/><path d="M674.2 228.4h-2.5M674.2 197.3h-2.5M674.2 166.1h-2.5M674.2 135h-2.5M674.2 103.8h-2.5M674.2 72.6h-2.5M674.2 41.5h-2.5" stroke="#5a5a5a" stroke-width="0.7"/><g fill="#333333" font-size="12"><text transform="translate(677.2 233.2) scale(0.92 1.14)">1</text><text transform="translate(677.2 202.1) scale(0.92 1.14)">2</text><text transform="translate(677.2 170.9) scale(0.92 1.14)">3</text><text transform="translate(677.2 139.8) scale(0.92 1.14)">4</text><text transform="translate(677.2 108.6) scale(0.92 1.14)">5</text><text transform="translate(677.2 77.4) scale(0.92 1.14)">6</text><text transform="translate(677.2 46.3) scale(0.92 1.14)">7</text></g><text transform="translate(470.00 289.10) scale(0.9400 1.0800)" font-size="13.20" fill="#333333">Eccentricity error (<tspan font-style="italic">&#956;</tspan>m)</text><text transform="translate(387.60 212.60) rotate(-90) scale(1.0430 0.9300)" font-size="13.20" fill="#333333">Initial phase difference (rad)</text><text transform="translate(417.90 309.00) scale(1.1000 1.0500)" font-size="16.50" fill="#111">(b)</text></svg></body></html>
